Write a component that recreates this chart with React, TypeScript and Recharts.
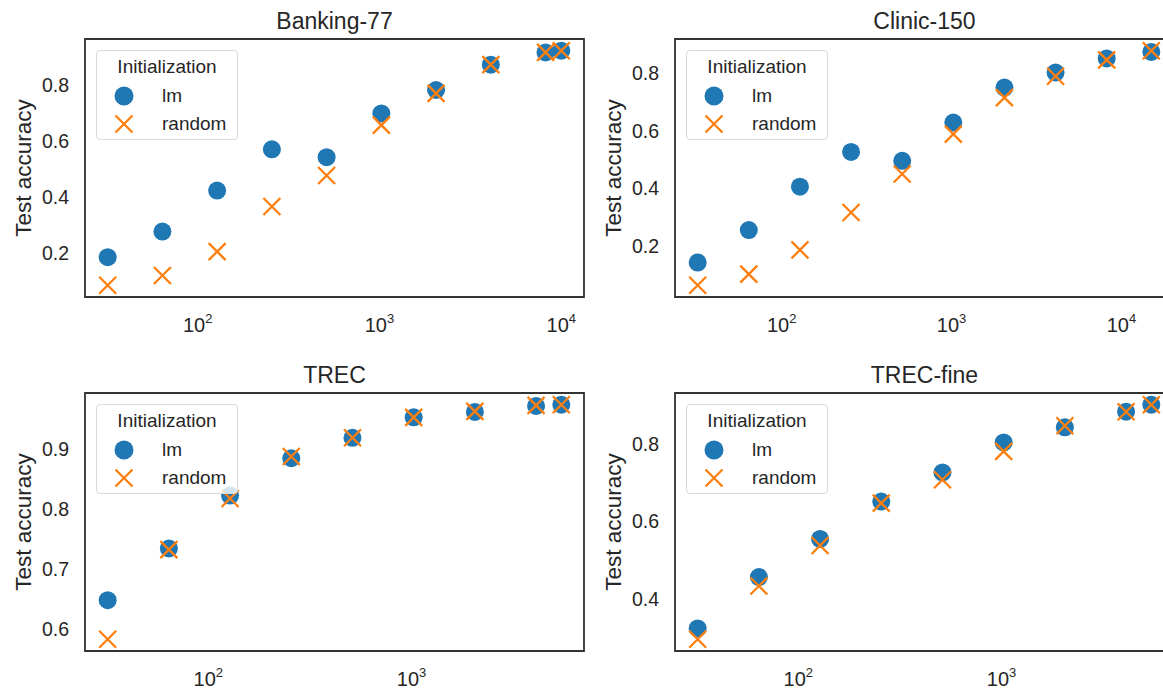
import React from 'react';
import { ScatterChart, Scatter, XAxis, YAxis, ReferenceArea, Legend } from 'recharts';

// training set sizes (x) for each dataset
const doublingSizes = [32, 64, 128, 256, 512, 1024, 2048, 4096, 8192];
const bankingSizes = [...doublingSizes, 10003];
const clinicSizes = [...doublingSizes, 15000];
const trecSizes = [32, 64, 128, 256, 512, 1024, 2048, 4096, 5452];

// test accuracy
const bankingLm = [0.184, 0.276, 0.423, 0.571, 0.543, 0.7, 0.784, 0.875, 0.919, 0.925];
const bankingRandom = [0.083, 0.118, 0.204, 0.366, 0.477, 0.658, 0.772, 0.875, 0.919, 0.925];

const clinicLm = [0.142, 0.255, 0.406, 0.527, 0.496, 0.629, 0.751, 0.803, 0.852, 0.875];
const clinicRandom = [0.063, 0.102, 0.186, 0.316, 0.45, 0.589, 0.716, 0.79, 0.847, 0.879];

const trecLm = [0.648, 0.734, 0.822, 0.884, 0.918, 0.952, 0.961, 0.971, 0.973];
const trecRandom = [0.583, 0.732, 0.817, 0.887, 0.918, 0.952, 0.962, 0.972, 0.973];

const trecFineLm = [0.325, 0.457, 0.555, 0.651, 0.726, 0.803, 0.842, 0.882, 0.9];
const trecFineRandom = [0.297, 0.434, 0.538, 0.647, 0.707, 0.78, 0.846, 0.882, 0.9];

const yTicksLow = [0.2, 0.4, 0.6, 0.8];
const yTicksTrec = [0.6, 0.7, 0.8, 0.9];
const yTicksTrecFine = [0.4, 0.6, 0.8];
const xTicksWide = [100, 1000, 10000];
const xTicksNarrow = [100, 1000];

const BLUE = '#1f77b4';
const ORANGE = '#ff7f0e';
const INK = '#262626';
const FONT = '"Liberation Sans", Arial, sans-serif';

const PLOT_W = 499;
const CHART_W = 590;

// matplotlib-like 5% margins (log space for x)
const logDomain = (xs: number[]) => {
  const lo = Math.log10(Math.min(...xs));
  const hi = Math.log10(Math.max(...xs));
  const m = (hi - lo) * 0.05;
  return [Math.pow(10, lo - m), Math.pow(10, hi + m)];
};
const linDomain = (ys: number[]) => {
  const lo = Math.min(...ys);
  const hi = Math.max(...ys);
  const m = (hi - lo) * 0.05;
  return [lo - m, hi + m];
};

const Dot = (p: any) => <circle cx={p.cx} cy={p.cy} r={9} fill={BLUE} />;
const Cross = (p: any) => {
  const { cx, cy } = p;
  const s = 8.5;
  return (
    <path
      d={`M${cx - s},${cy - s}L${cx + s},${cy + s}M${cx - s},${cy + s}L${cx + s},${cy - s}`}
      stroke={ORANGE}
      strokeWidth={2.3}
      fill="none"
    />
  );
};

const PowTick = (p: any) => {
  const exp = Math.round(Math.log10(p.payload.value));
  return (
    <text x={p.x} y={p.y + 33} textAnchor="middle" fill={INK} fontSize={20} fontFamily={FONT}>
      <tspan>10</tspan>
      <tspan dy={-9} fontSize={13}>{exp}</tspan>
    </text>
  );
};

const YLabel = (p: any) => {
  const vb = p.viewBox || {};
  const cy = vb.y + vb.height / 2;
  const x = vb.x + 31;
  return (
    <text
      x={x}
      y={cy}
      transform={`rotate(-90 ${x} ${cy})`}
      textAnchor="middle"
      fill={INK}
      fontSize={22.5}
      fontFamily={FONT}
    >
      Test accuracy
    </text>
  );
};

const LegendBox = () => (
  <div
    style={{
      position: 'relative',
      width: 142,
      height: 90,
      boxSizing: 'border-box',
      border: '1px solid #d8d8d8',
      borderRadius: 4,
      background: 'rgba(255,255,255,0.8)',
      fontFamily: FONT,
      fontSize: 19,
      color: INK,
      lineHeight: '19px',
    }}
  >
    <div style={{ position: 'absolute', left: 0, width: 140, top: 6, textAlign: 'center' }}>Initialization</div>
    <svg style={{ position: 'absolute', left: 0, top: 0 }} width={60} height={90}>
      <circle cx={27} cy={45} r={9.5} fill={BLUE} />
      <path d="M18.5,64.5L35.5,81.5M18.5,81.5L35.5,64.5" stroke={ORANGE} strokeWidth={2.3} fill="none" />
    </svg>
    <div style={{ position: 'absolute', left: 65, top: 35 }}>lm</div>
    <div style={{ position: 'absolute', left: 65, top: 63 }}>random</div>
  </div>
);

type PanelProps = {
  title: string;
  sizes: number[];
  lm: number[];
  random: number[];
  yTicks: number[];
  xTicks: number[];
  left: number;
  top: number;
  height: number;
  plotTop: number;
};

const Panel = ({ title, sizes, lm, random, yTicks, xTicks, left, top, height, plotTop }: PanelProps) => {
  const xDom = logDomain(sizes);
  const yDom = linDomain([...lm, ...random]);
  const lmData = sizes.map((x, i) => ({ x, y: lm[i] }));
  const randomData = sizes.map((x, i) => ({ x, y: random[i] }));
  const bottom = height - plotTop - 258 - 30;
  return (
    <div style={{ position: 'absolute', left, top, width: CHART_W, height }}>
      <div
        style={{
          position: 'absolute',
          left: 85,
          width: PLOT_W,
          top: plotTop - 29,
          textAlign: 'center',
          fontFamily: FONT,
          fontSize: 23,
          lineHeight: '23px',
          color: INK,
        }}
      >
        {title}
      </div>
      <ScatterChart width={CHART_W} height={height} margin={{ top: plotTop, right: 6, bottom, left: 0 }}>
        <XAxis
          type="number"
          dataKey="x"
          scale="log"
          domain={xDom}
          ticks={xTicks}
          allowDataOverflow
          axisLine={false}
          tickLine={false}
          tickSize={0}
          height={30}
          tick={<PowTick />}
        />
        <YAxis
          type="number"
          dataKey="y"
          domain={yDom}
          ticks={yTicks}
          allowDataOverflow
          width={85}
          axisLine={false}
          tickLine={false}
          tickSize={0}
          tickMargin={16}
          tickFormatter={(v: number) => v.toFixed(1)}
          tick={{ fill: INK, fontSize: 19.5, fontFamily: FONT }}
          label={<YLabel />}
        />
        <ReferenceArea
          x1={xDom[0]}
          x2={xDom[1]}
          y1={yDom[0]}
          y2={yDom[1]}
          fill="none"
          stroke="#333"
          strokeWidth={1.8}
          ifOverflow="visible"
        />
        <Legend
          layout="horizontal"
          verticalAlign="middle"
          align="center"
          content={<LegendBox />}
          wrapperStyle={{ position: 'absolute', left: 96, top: plotTop + 11, width: 142, height: 90 }}
        />
        <Scatter name="lm" data={lmData} shape={<Dot />} isAnimationActive={false} />
        <Scatter name="random" data={randomData} shape={<Cross />} isAnimationActive={false} />
      </ScatterChart>
    </div>
  );
};

export default function App() {
  return (
    <div
      style={{
        position: 'absolute',
        left: 0,
        top: 0,
        width: 1163,
        height: 691,
        overflow: 'hidden',
        background: '#fff',
      }}
    >
      <Panel title="Banking-77" sizes={bankingSizes} lm={bankingLm} random={bankingRandom}
        yTicks={yTicksLow} xTicks={xTicksWide} left={0} top={0} height={345} plotTop={39} />
      <Panel title="Clinic-150" sizes={clinicSizes} lm={clinicLm} random={clinicRandom}
        yTicks={yTicksLow} xTicks={xTicksWide} left={590} top={0} height={345} plotTop={39} />
      <Panel title="TREC" sizes={trecSizes} lm={trecLm} random={trecRandom}
        yTicks={yTicksTrec} xTicks={xTicksNarrow} left={0} top={345} height={346} plotTop={48} />
      <Panel title="TREC-fine" sizes={trecSizes} lm={trecFineLm} random={trecFineRandom}
        yTicks={yTicksTrecFine} xTicks={xTicksNarrow} left={590} top={345} height={346} plotTop={48} />
    </div>
  );
}
